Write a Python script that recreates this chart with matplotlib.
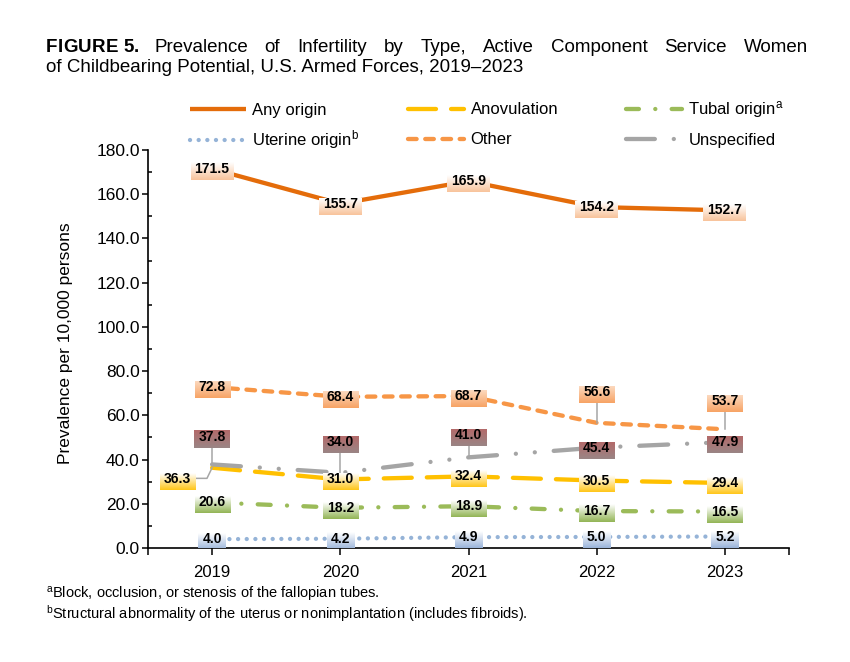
import numpy as np
import matplotlib
matplotlib.use("Agg")
import matplotlib.pyplot as plt
from matplotlib.colors import LinearSegmentedColormap
from matplotlib.lines import Line2D

plt.rcParams['font.family'] = ['Liberation Sans', 'DejaVu Sans']
plt.rcParams['mathtext.fontset'] = 'custom'
plt.rcParams['mathtext.rm'] = 'Liberation Sans'
plt.rcParams['mathtext.it'] = 'Liberation Sans:italic'

# ---- data ----
years = ["2019", "2020", "2021", "2022", "2023"]
any_origin = [171.5, 155.7, 165.9, 154.2, 152.7]
anovulation = [36.3, 31.0, 32.4, 30.5, 29.4]
tubal_origin = [20.6, 18.2, 18.9, 16.7, 16.5]
uterine_origin = [4.0, 4.2, 4.9, 5.0, 5.2]
other = [72.8, 68.4, 68.7, 56.6, 53.7]
unspecified = [37.8, 34.0, 41.0, 45.4, 47.9]

# ---- styles: label, values, line colour, dashes, box top, box bottom, label moves ----
series = [
    ("Any origin", any_origin, "#E46C0A", None, "#FFFFFF", "#F8C39B", {}),
    ("Anovulation", anovulation, "#FFC000", (6.5, 3.5), "#FFFFFF", "#FFC61A",
     {0: (-0.27, 31.0)}),
    (r"Tubal origin$^{\mathrm{a}}$", tubal_origin, "#9BBB59", (3.0, 3.8, 0.01, 3.8),
     "#FFFFFF", "#93B556", {}),
    (r"Uterine origin$^{\mathrm{b}}$", uterine_origin, "#95B3D7", (0.01, 2.0),
     "#FFFFFF", "#9AB4DA", {}),
    ("Other", other, "#F79646", (2.0, 2.0), "#FCD9BE", "#F7A365",
     {3: (3.0, 70.5), 4: (4.0, 66.3)}),
    ("Unspecified", unspecified, "#A5A5A5", (6.7, 4.4, 0.01, 4.4, 0.01, 4.4),
     "#B36A6A", "#9A8585", {0: (0.0, 50.2), 1: (1.0, 47.8), 2: (2.0, 51.2)}),
]

W, H = 850, 662
def fx(px): return px / W
def fy(py): return 1 - py / H

fig = plt.figure(figsize=(W / 100, H / 100), dpi=100)
ax = fig.add_axes([fx(148), fy(548), (789 - 148) / W, (548 - 150) / H])
x = np.arange(len(years))

handles = []
for name, vals, col, dashes, ctop, cbot, moves in series:
    ls = "-" if dashes is None else (0, dashes)
    ax.plot(x, vals, color=col, lw=3.1, linestyle=ls,
            dash_capstyle="round", solid_capstyle="butt", zorder=2)
    handles.append(Line2D([], [], color=col, lw=3.1, linestyle=ls,
                          dash_capstyle="round", solid_capstyle="butt"))

ax.set_xlim(-0.5, 4.5)
ax.set_ylim(0, 180)
ax.set_xticks(x)
ax.set_xticklabels(years, fontsize=12)
ax.set_xticks([-0.5, 4.5], minor=True)
ax.set_yticks(np.arange(0, 181, 20))
ax.set_yticklabels(["%.1f" % v for v in np.arange(0, 181, 20)], fontsize=12.5)
ax.set_yticks(np.arange(10, 180, 20), minor=True)
ax.tick_params(axis="x", which="both", direction="out", length=5, width=1.1, pad=7)
ax.tick_params(axis="y", which="major", direction="out", length=4, width=1.1, pad=2)
ax.tick_params(axis="y", which="minor", direction="in", length=3, width=1.1)
for s in ["top", "right"]:
    ax.spines[s].set_visible(False)
for s in ["left", "bottom"]:
    ax.spines[s].set_linewidth(1.2)
ax.set_ylabel("Prevalence per 10,000 persons", fontsize=12.5)
ax.yaxis.set_label_coords(-0.117, 0.515)

# ---- data labels ----
labels = []
for name, vals, col, dashes, ctop, cbot, moves in series:
    for i, v in enumerate(vals):
        lx, ly = moves.get(i, (i, v))
        t = ax.text(lx, ly, "%.1f" % v, ha="center", va="center", fontsize=10,
                    fontweight="bold", color="black", zorder=7)
        labels.append((t, i, v, (lx, ly) != (i, v), ctop, cbot))

fig.canvas.draw()
renderer = fig.canvas.get_renderer()
inv = ax.transData.inverted()
for t, i, v, moved, ctop, cbot in labels:
    bb = t.get_window_extent(renderer)
    cy = (bb.y0 + bb.y1) / 2
    (x0, y0), (x1, y1) = inv.transform([(bb.x0 - 4, cy - 11), (bb.x1 + 4, cy + 6)])
    cmap = LinearSegmentedColormap.from_list("g", [ctop, cbot])
    grad = np.linspace(0, 1, 50).reshape(-1, 1)
    ax.imshow(grad, cmap=cmap, extent=[x0, x1, y0, y1], aspect="auto",
              origin="upper", zorder=6, interpolation="bilinear")
    if moved:
        lx, ly = t.get_position()
        if lx < i - 0.1:
            ax.plot([x1, i - 0.04, i], [ly + 0.5, ly + 0.5, v], color="#A6A6A6",
                    lw=1.1, zorder=4)
        else:
            ax.plot([lx, i], [y0, v], color="#A6A6A6", lw=1.1, zorder=4)
ax.set_xlim(-0.5, 4.5)
ax.set_ylim(0, 180)

# ---- legend: 2 rows x 3 columns, one entry each so rows line up ----
col_x = [190, 408, 626]
row_y = [110, 140]
for k in range(6):
    r, c = divmod(k, 3)
    idx = [0, 1, 2, 3, 4, 5][k]
    fig.legend([handles[idx]], [series[idx][0]],
               loc="center left", bbox_to_anchor=(fx(col_x[c]), fy(row_y[r])),
               frameon=False, fontsize=12, handlelength=3.35,
               handletextpad=0.4, borderpad=0, borderaxespad=0)

# ---- title, justified first line ----
fig_font = ["Liberation Sans Narrow", "DejaVu Sans Condensed", "Liberation Sans"]
chars = []
for ch in "FIGURE 5.":
    t = fig.text(0, fy(47), ch, fontsize=13.5, fontweight="bold",
                 family=fig_font, va="center", ha="left")
    w = 4.5 if ch == " " else t.get_window_extent(renderer).width
    chars.append((t, w))
natural = sum(w for _, w in chars)
track = (93 - natural) / (len(chars) - 1)
xpos = 46
for t, w in chars:
    t.set_x(fx(xpos))
    xpos += w + track
xpos = 154
words = "Prevalence of Infertility by Type, Active Component Service Women".split()
wt = []
for w in words:
    t = fig.text(0, fy(47), w, fontsize=13.5, va="center", ha="left")
    wt.append((t, t.get_window_extent(renderer).width))
gap = (808 - xpos - sum(w for _, w in wt)) / (len(wt) - 1)
for t, w in wt:
    t.set_x(fx(xpos))
    xpos += w + gap
fig.text(fx(46), fy(67), "of Childbearing Potential, U.S. Armed Forces, 2019\u20132023",
         fontsize=13.5, va="center", ha="left")

# ---- footnotes ----
fig.text(fx(46), fy(594), r"$^{\mathrm{a}}$Block, occlusion, or stenosis of the fallopian tubes.",
         fontsize=10.5, va="center", ha="left")
fig.text(fx(46), fy(614), r"$^{\mathrm{b}}$Structural abnormality of the uterus or nonimplantation (includes fibroids).",
         fontsize=10.5, va="center", ha="left")

fig.savefig("out.png", dpi=100)
